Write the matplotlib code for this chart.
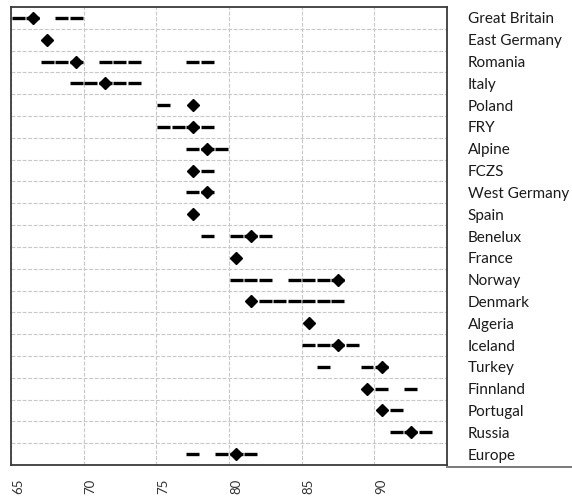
import numpy as np
import matplotlib
matplotlib.use("Agg")
import matplotlib.pyplot as plt
from matplotlib.transforms import ScaledTranslation
from matplotlib.lines import Line2D

# rows from top to bottom
countries = ["Great Britain", "East Germany", "Romania", "Italy", "Poland", "FRY",
             "Alpine", "FCZS", "West Germany", "Spain", "Benelux", "France",
             "Norway", "Denmark", "Algeria", "Iceland", "Turkey", "Finnland",
             "Portugal", "Russia", "Europe"]

# diamond position per row
medians = [66.5, 67.5, 69.5, 71.5, 77.5, 77.5, 78.5, 77.5, 78.5, 77.5, 81.5,
           80.5, 87.5, 81.5, 85.5, 87.5, 90.5, 89.5, 90.5, 92.5, 80.5]

# years drawn as a dash per row
years = [
    [65, 66, 68, 69],
    [],
    [67, 68, 69, 71, 72, 73, 77, 78],
    [69, 70, 71, 72, 73],
    [75],
    [75, 76, 77, 78],
    [77, 78, 79],
    [78],
    [77, 78],
    [],
    [78, 80, 81, 82],
    [],
    [80, 81, 82, 84, 85, 86, 87],
    [82, 83, 84, 85, 86, 87],
    [],
    [85, 86, 87, 88],
    [86, 89, 90],
    [90, 92],
    [91],
    [91, 92, 93],
    [77, 79, 80, 81],
]

xticks = [65, 70, 75, 80, 85, 90]

plt.rcParams['font.family'] = ['Lato', 'DejaVu Sans']

fig = plt.figure(figsize=(5.72, 4.97), dpi=100)
ax = fig.add_axes([11 / 572, 1 - 465 / 497, 436 / 572, 458 / 497])

# dashes, one per year
for i, yrs in enumerate(years):
    if not yrs:
        continue
    yrs = np.array(yrs, dtype=float)
    ax.hlines(np.full(len(yrs), i), yrs + 0.05, yrs + 0.94, colors='black',
              linewidth=2.4, capstyle='butt', zorder=2)

ax.plot(medians, range(len(countries)), 'D', color='black', markersize=6.2,
        linestyle='none', zorder=3)

ax.set_xlim(65, 95)
ax.set_ylim(len(countries) - 0.5, -0.5)
ax.set_xticks(xticks)
ax.set_yticks(range(len(countries)))
ax.set_yticklabels(countries)
ax.set_yticks(np.arange(0.5, len(countries) - 1), minor=True)

ax.yaxis.tick_right()
ax.tick_params(axis='y', which='both', length=0, pad=15, labelsize=11,
               labelcolor='#1a1a1a')
ax.tick_params(axis='x', length=0, pad=10, labelrotation=90, labelsize=9.5,
               labelcolor='#333333')

# shift rotated tick labels a little to the right, as in the source
for lbl in ax.get_xticklabels():
    lbl.set_transform(lbl.get_transform() + ScaledTranslation(7 / 100, 0, fig.dpi_scale_trans))

grid_style = dict(color='#c8c8c8', linewidth=0.8, linestyle=(0, (3.5, 1.5)))
ax.grid(axis='x', which='major', **grid_style)
ax.grid(axis='y', which='minor', **grid_style)
ax.set_axisbelow(True)

for side in ['left', 'top', 'right', 'bottom']:
    ax.spines[side].set_color('#3a3a3a')
    ax.spines[side].set_linewidth(1.3)

# bottom rule continues under the label column
fig.add_artist(Line2D([447 / 572, 1], [1 - 467 / 497, 1 - 467 / 497],
                      transform=fig.transFigure, color='#6e6e6e', linewidth=1.3))

fig.savefig("out.png", dpi=100)
